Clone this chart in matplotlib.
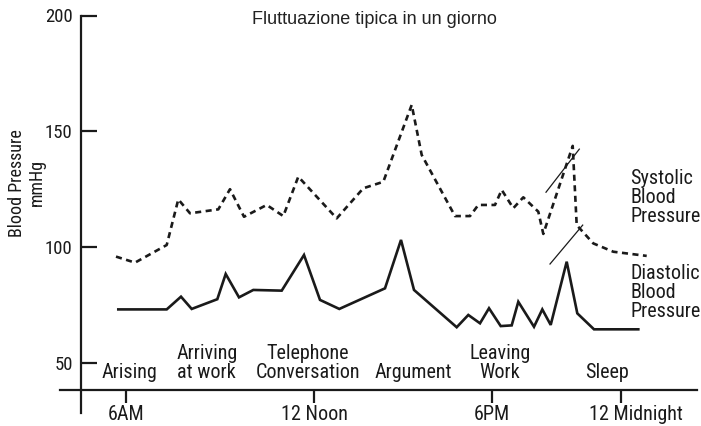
import matplotlib
matplotlib.use("Agg")
import matplotlib.pyplot as plt
from matplotlib import font_manager
from matplotlib.transforms import ScaledTranslation

# ---- data ----
title = "Fluttuazione tipica in un giorno"
y_label = "Blood Pressure\nmmHg"
y_ticks = [50, 100, 150, 200]
x_tick_pos = [12.6, 31.4, 49.2, 62.1]
x_tick_labels = ["6AM", "12 Noon", "6PM", "12 Midnight"]

systolic_x = [11.6, 13.5, 16.67, 17.83, 19.0, 21.83, 23.0, 24.4, 26.67, 28.33,
              29.83, 33.67, 36.33, 38.33, 41.17, 42.17, 45.5, 47.0, 47.83, 49.5,
              50.17, 51.33, 52.33, 53.83, 54.33, 57.27, 57.67, 59.33, 61.33, 64.67]
systolic_y = [95.9, 93.3, 100.9, 120.6, 114.6, 116.3, 125.0, 113.1, 118.2, 113.4,
              130.4, 112.4, 125.4, 128.2, 161.4, 139.8, 113.4, 113.4, 118.2, 118.2,
              124.7, 116.8, 121.5, 115.3, 105.7, 143.7, 109.5, 101.6, 98.0, 96.2]

diastolic_x = [11.83, 16.67, 18.1, 19.17, 21.73, 22.57, 23.9, 25.33, 28.17, 30.4,
               32.0, 33.93, 38.5, 40.1, 41.4, 45.67, 46.83, 48.0, 48.9, 50.07,
               51.17, 51.83, 53.4, 54.23, 55.07, 56.67, 57.73, 59.4, 63.83]
diastolic_y = [73.1, 73.1, 78.6, 73.3, 77.5, 88.4, 78.3, 81.5, 81.2, 96.6,
               77.2, 73.3, 82.2, 103.1, 81.5, 65.4, 70.7, 67.1, 73.6, 65.9,
               66.2, 76.4, 65.6, 73.1, 66.4, 93.7, 71.4, 64.5, 64.5]

events = ["Arising", "Arriving\nat work", "Telephone\nConversation", "Argument",
          "Leaving\nWork", "Sleep"]
event_x = [12.9, 20.67, 30.75, 41.3, 50.0, 60.7]

series_labels = ["Systolic\nBlood\nPressure", "Diastolic\nBlood\nPressure"]
series_label_y = [121.6, 80.6]

# pointer strokes linking labels to lines
pointer_x = [[54.6, 57.93], [55.0, 58.27]]
pointer_y = [[123.7, 142.3], [92.7, 109.5]]

# ---- fonts ----
avail = {f.name for f in font_manager.fontManager.ttflist}
narrow_list = [n for n in ["Roboto Condensed", "Archivo Narrow", "PT Sans Narrow",
                           "Liberation Sans Narrow"] if n in avail]
narrow = narrow_list[0] if narrow_list else "DejaVu Sans"
plt.rcParams["font.family"] = [narrow, "DejaVu Sans"]
plain = [n for n in ["Liberation Sans", "DejaVu Sans"] if n in avail][0]

fig = plt.figure(figsize=(7.01, 4.26), dpi=100)
W, H = 701, 426
ax = fig.add_axes([60 / W, 1 - 412.7 / H, 637 / W, (412.7 - 15.5) / H])
ax.set_xlim(6.0, 69.7)
ax.set_ylim(28.5, 200)

ink = "#1a1a1a"
ax.plot(systolic_x, systolic_y, color=ink, lw=1.9, dashes=(2.3, 1.7),
        solid_joinstyle="miter")
ax.plot(diastolic_x, diastolic_y, color=ink, lw=1.9, solid_joinstyle="miter")
for px, py in zip(pointer_x, pointer_y):
    ax.plot(px, py, color=ink, lw=0.9)

for s in ["top", "right"]:
    ax.spines[s].set_visible(False)
ax.spines["left"].set_position(("data", 8.1))
ax.spines["bottom"].set_position(("data", 38.3))
for s in ["left", "bottom"]:
    ax.spines[s].set_linewidth(1.6)
    ax.spines[s].set_color(ink)

ax.set_yticks(y_ticks)
ax.set_yticklabels([str(v) for v in y_ticks])
ax.tick_params(axis="y", direction="in", length=11.5, width=1.6, pad=6,
               labelsize=13.5, colors=ink)
ax.set_xticks(x_tick_pos)
ax.set_xticklabels(x_tick_labels)
ax.tick_params(axis="x", direction="out", length=9, width=1.6, pad=2.0,
               labelsize=14.5, colors=ink)
# the last time label sits a little right of its tick in the original
last = ax.get_xticklabels()[-1]
last.set_transform(last.get_transform() +
                   ScaledTranslation(15 / 100, 0, fig.dpi_scale_trans))

for lab, xv in zip(events, event_x):
    ax.text(xv, 41.6, lab, ha="center", va="bottom", fontsize=14.5,
            linespacing=1.0, color=ink)

for lab, yv in zip(series_labels, series_label_y):
    ax.text(63.0, yv, lab, ha="left", va="center", fontsize=14.5,
            linespacing=1.0, color=ink)

fig.text(374.5 / W, 1 - 20 / H, title, ha="center", va="center", fontsize=13,
         family=[plain, "DejaVu Sans"], color="#222222")
fig.text(27 / W, 1 - 183 / H, y_label, ha="center", va="center", rotation=90,
         fontsize=13, linespacing=1.1, multialignment="center", color=ink)

fig.savefig("out.png", dpi=100)
